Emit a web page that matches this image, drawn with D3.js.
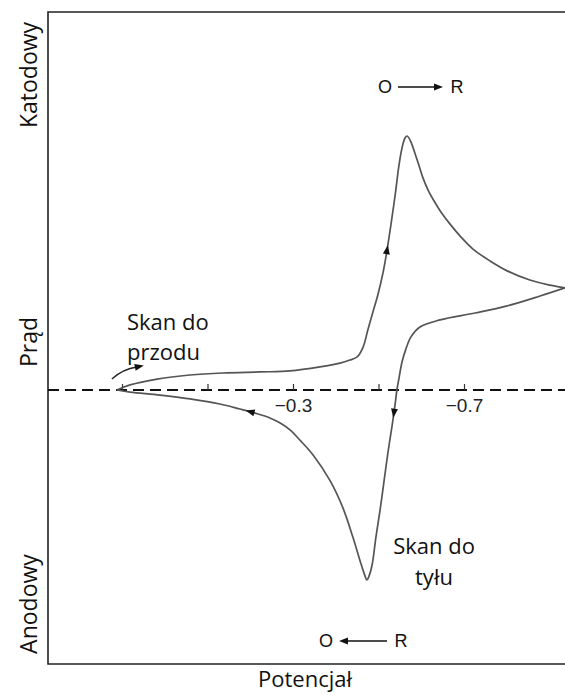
<!DOCTYPE html>
<html><head><meta charset="utf-8">
<script src="https://cdn.jsdelivr.net/npm/d3@7"></script>
<style>
html,body{margin:0;padding:0;background:#fff;}
svg{display:block;}
</style></head>
<body>
<svg id="c" width="565" height="695"></svg>
<script>
// ---- data (potential in V, current in relative units, cathodic positive) ----
const forwardE = [0.112,0.081,0.018,-0.059,-0.136,-0.223,-0.293,-0.363,-0.410,-0.433,-0.450,-0.464,-0.475,-0.487,-0.499,-0.511,-0.520,-0.529,-0.539,-0.548,-0.555,-0.562,-0.567,-0.576,-0.585,-0.595,-0.604,-0.616,-0.630,-0.646,-0.667,-0.691,-0.721,-0.761,-0.801,-0.854,-0.901,-0.936];
const forwardI = [0,0.020,0.043,0.059,0.067,0.071,0.075,0.091,0.106,0.118,0.130,0.169,0.236,0.307,0.378,0.465,0.551,0.650,0.768,0.886,0.953,0.992,1.0,0.976,0.933,0.882,0.835,0.787,0.744,0.701,0.654,0.606,0.555,0.508,0.469,0.433,0.413,0.402];
const reverseE = [-0.936,-0.878,-0.801,-0.726,-0.644,-0.597,-0.576,-0.564,-0.555,-0.548,-0.543,-0.539,-0.532,-0.522,-0.513,-0.504,-0.494,-0.485,-0.478,-0.473,-0.466,-0.457,-0.440,-0.417,-0.387,-0.347,-0.316,-0.293,-0.270,-0.246,-0.211,-0.176,-0.129,-0.059,0.011,0.081,0.112];
const reverseI = [0.402,0.370,0.331,0.303,0.276,0.248,0.209,0.161,0.110,0.047,0,-0.055,-0.138,-0.248,-0.358,-0.469,-0.579,-0.689,-0.732,-0.748,-0.720,-0.673,-0.579,-0.465,-0.358,-0.256,-0.197,-0.157,-0.130,-0.110,-0.091,-0.075,-0.055,-0.035,-0.020,-0.008,0];
const tickValues = [0.1,-0.1,-0.3,-0.5,-0.7];
const tickLabels = ["","","\u22120.3","","\u22120.7"];
// arrow positions along the curve (E, I)
const arrowE = [-0.520,-0.539,-0.201];
const arrowI = [0.551,-0.091,-0.087];
const arrowCurve = ["forward","reverse","reverse"];

const svg = d3.select("#c");
const W = 565, H = 695;
const frameL = 48, frameT = 12, frameB = 664;

const x = d3.scaleLinear().domain([-0.3,-0.7]).range([293,464]);
const y = d3.scaleLinear().domain([0,1]).range([390,136]);

// frame
svg.append("path")
  .attr("d", `M${W},${frameT}H${frameL}V${frameB}H${W}`)
  .attr("fill","none").attr("stroke","#222").attr("stroke-width",1.6);

// dashed zero line
svg.append("line")
  .attr("x1",frameL).attr("x2",W).attr("y1",y(0)).attr("y2",y(0))
  .attr("stroke","#111").attr("stroke-width",2).attr("stroke-dasharray","11,6");

// potential ticks
const axis = d3.axisBottom(x).tickValues(tickValues).tickSizeInner(-6).tickSizeOuter(0)
  .tickPadding(9).tickFormat((d,i)=>tickLabels[i]);
const gA = svg.append("g").attr("transform",`translate(0,${y(0)})`).call(axis);
gA.select(".domain").remove();
gA.selectAll(".tick line").attr("stroke","#333").attr("stroke-width",1.2);
gA.selectAll(".tick text").attr("font-family","Liberation Sans, Arial, sans-serif")
  .attr("font-size",19).attr("fill","#222");

// curve
const line = d3.line().x(d=>x(d[0])).y(d=>y(d[1])).curve(d3.curveCatmullRom.alpha(0.5));
const fwd = forwardE.map((e,i)=>[e,forwardI[i]]);
const rev = reverseE.map((e,i)=>[e,reverseI[i]]);
const paths = {};
paths.forward = svg.append("path").attr("d",line(fwd)).attr("fill","none")
  .attr("stroke","#555").attr("stroke-width",1.7).node();
paths.reverse = svg.append("path").attr("d",line(rev)).attr("fill","none")
  .attr("stroke","#555").attr("stroke-width",1.7).node();

// arrowheads placed on the curve
function arrowAt(node, px, py){
  const L = node.getTotalLength();
  let best=0, bd=1e9;
  for(let l=0;l<=L;l+=0.5){
    const p=node.getPointAtLength(l);
    const d=(p.x-px)**2+(p.y-py)**2;
    if(d<bd){bd=d;best=l;}
  }
  const p=node.getPointAtLength(best);
  const a=node.getPointAtLength(Math.max(0,best-2));
  const b=node.getPointAtLength(Math.min(L,best+2));
  const ang=Math.atan2(b.y-a.y,b.x-a.x)*180/Math.PI;
  svg.append("path").attr("d","M5,0L-4,-3.5L-4,3.5Z").attr("fill","#111")
    .attr("transform",`translate(${p.x},${p.y}) rotate(${ang})`);
}
arrowE.forEach((e,i)=>arrowAt(paths[arrowCurve[i]], x(e), y(arrowI[i])));

// "forward scan" small curved arrow near start
const sx = x(forwardE[0]), sy = y(0);
svg.append("path").attr("d",`M${sx-5},${sy-11}Q${sx+6},${sy-21} ${sx+20},${sy-23}`)
  .attr("fill","none").attr("stroke","#222").attr("stroke-width",1.4);
svg.append("path").attr("d","M5,0L-4,-3.5L-4,3.5Z").attr("fill","#111")
  .attr("transform",`translate(${sx+22},${sy-23.5}) rotate(-12)`);

// texts
const calFont = "'Open Sans', Lato, sans-serif";
const arFont = "'Liberation Sans', Arial, sans-serif";
function txt(t,xx,yy,opts={}){
  return svg.append("text").attr("x",xx).attr("y",yy).text(t)
    .attr("font-family",opts.font||calFont).attr("font-size",opts.size||22)
    .attr("fill",opts.fill||"#111").attr("text-anchor",opts.anchor||"start")
    .attr("transform",opts.rot?`rotate(-90,${xx},${yy})`:null);
}
txt("Skan do",127,330);
txt("przodu",127,360);
txt("Skan do",434,554,{anchor:"middle"});
txt("tyłu",434,585,{anchor:"middle"});
txt("Potencjał",305,687,{anchor:"middle",size:22});
txt("Katodowy",37,75,{anchor:"middle",rot:true,size:23});
txt("Prąd",37,342,{anchor:"middle",rot:true,size:23});
txt("Anodowy",37,604,{anchor:"middle",rot:true,size:23});

// O -> R and O <- R
txt("O",385,93,{font:arFont,size:18,anchor:"middle"});
txt("R",457,93,{font:arFont,size:18,anchor:"middle"});
svg.append("line").attr("x1",398).attr("x2",436).attr("y1",87).attr("y2",87).attr("stroke","#111").attr("stroke-width",1.5);
svg.append("path").attr("d","M443,87L434,83.5L434,90.5Z").attr("fill","#111");
txt("O",326,647,{font:arFont,size:18,anchor:"middle"});
txt("R",401,647,{font:arFont,size:18,anchor:"middle"});
svg.append("line").attr("x1",346).attr("x2",387).attr("y1",641).attr("y2",641).attr("stroke","#111").attr("stroke-width",1.5);
svg.append("path").attr("d","M339,641L348,637.5L348,644.5Z").attr("fill","#111");
</script>
</body></html>
